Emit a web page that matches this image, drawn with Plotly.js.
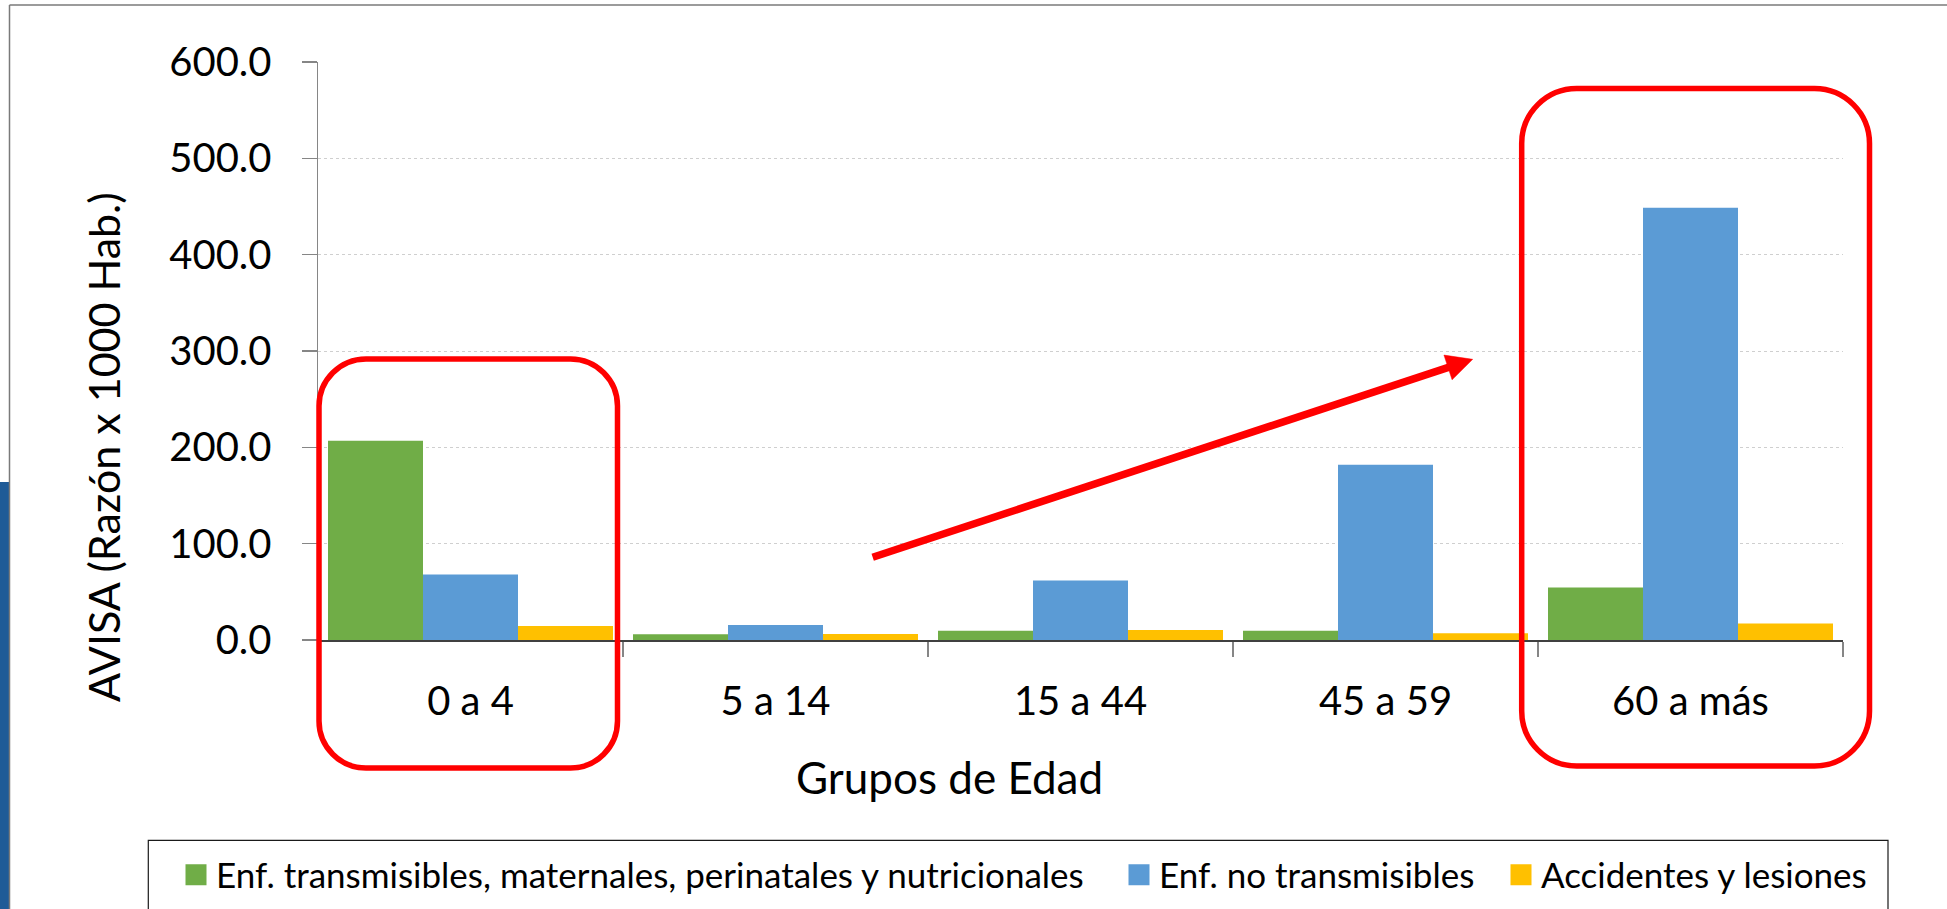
<!DOCTYPE html>
<html>
<head>
<meta charset="utf-8">
<script src="https://cdn.plot.ly/plotly-3.0.1.min.js"></script>
<style>
  html, body { margin: 0; padding: 0; background: #ffffff; }
  #chart { width: 1947px; height: 909px; }
</style>
</head>
<body>
<div id="chart"></div>
<script>
// ---- data ----
const categories = ['0 a 4', '5 a 14', '15 a 44', '45 a 59', '60 a más'];
const transmisibles = [206.8, 5.9, 9.7, 9.7, 54.5];
const noTransmisibles = [67.9, 15.5, 61.7, 182.0, 448.6];
const accidentes = [14.5, 6.2, 10.4, 6.9, 17.0];
const seriesNames = [
  'Enf. transmisibles, maternales, perinatales y nutricionales',
  'Enf. no transmisibles',
  'Accidentes y lesiones'
];
const seriesColors = ['#70AD47', '#5B9BD5', '#FFC000'];
const yAxisTitle = 'AVISA (Razón x 1000 Hab.)';
const xAxisTitle = 'Grupos de Edad';

// ---- geometry (pixels) ----
const W = 1947, H = 909;
const L = 318, R = 1843, T = 62, B = 640;
const PW = R - L, PH = B - T;
const px = x => (x - L) / PW;
const py = y => (B - y) / PH;
const P = (x, y) => px(x).toFixed(5) + ',' + py(y).toFixed(5);

function roundRect(x0, y0, x1, y1, r) {
  const k = 0.5523 * r;
  return 'M' + P(x0 + r, y0) +
    ' L' + P(x1 - r, y0) +
    ' C' + P(x1 - r + k, y0) + ' ' + P(x1, y0 + r - k) + ' ' + P(x1, y0 + r) +
    ' L' + P(x1, y1 - r) +
    ' C' + P(x1, y1 - r + k) + ' ' + P(x1 - r + k, y1) + ' ' + P(x1 - r, y1) +
    ' L' + P(x0 + r, y1) +
    ' C' + P(x0 + r - k, y1) + ' ' + P(x0, y1 - r + k) + ' ' + P(x0, y1 - r) +
    ' L' + P(x0, y0 + r) +
    ' C' + P(x0, y0 + r - k) + ' ' + P(x0 + r - k, y0) + ' ' + P(x0 + r, y0) + ' Z';
}

// arrow geometry
const aStart = [872.7, 557.3], aTip = [1472.7, 359.3];
const dx = aTip[0] - aStart[0], dy = aTip[1] - aStart[1];
const len = Math.hypot(dx, dy);
const ux = dx / len, uy = dy / len, nx = -uy, ny = ux;
const headLen = 26, headHalf = 13;
const base = [aTip[0] - headLen * ux, aTip[1] - headLen * uy];

const FONT = 'Lato, "Open Sans", sans-serif';

const traces = [transmisibles, noTransmisibles, accidentes].map((vals, i) => ({
  type: 'bar',
  x: categories,
  y: vals,
  name: seriesNames[i],
  marker: { color: seriesColors[i], line: { width: 0 } },
  legend: i === 0 ? 'legend' : 'legend' + (i + 1),
  hoverinfo: 'x+y+name'
}));

const legendBase = {
  orientation: 'h',
  xref: 'container', yref: 'container',
  xanchor: 'left', yanchor: 'middle',
  y: 1 - 875 / H,
  bgcolor: 'rgba(0,0,0,0)',
  borderwidth: 0,
  font: { family: FONT, size: 35, color: '#000000' }
};

const layout = {
  width: W, height: H,
  margin: { l: L, r: W - R, t: T, b: H - B, autoexpand: false },
  paper_bgcolor: '#ffffff',
  plot_bgcolor: '#ffffff',
  font: { family: FONT, color: '#000000' },
  barmode: 'group',
  bargap: 0.0656,
  bargroupgap: 0,
  showlegend: true,
  legend: Object.assign({}, legendBase, { x: (216 - 40) / W }),
  legend2: Object.assign({}, legendBase, { x: (1159 - 40) / W }),
  legend3: Object.assign({}, legendBase, { x: (1541 - 40) / W }),
  xaxis: {
    type: 'category',
    categoryorder: 'array',
    categoryarray: categories,
    tickson: 'boundaries',
    ticks: 'outside',
    ticklen: 15,
    tickwidth: 1.5,
    tickcolor: '#868686',
    showline: true,
    linecolor: '#404040',
    linewidth: 1.5,
    showgrid: false,
    zeroline: false,
    ticklabelstandoff: 25,
    tickfont: { family: FONT, size: 40, color: '#000000' }
  },
  yaxis: {
    range: [0, 600],
    dtick: 100,
    tick0: 0,
    tickformat: '.1f',
    ticks: 'outside',
    ticklen: 15,
    tickwidth: 1.5,
    tickcolor: '#868686',
    showline: true,
    linecolor: '#868686',
    linewidth: 1.5,
    showgrid: true,
    gridcolor: '#cfcfcf',
    griddash: 'dot',
    gridwidth: 1,
    zeroline: false,
    ticklabelstandoff: 22,
    tickfont: { family: FONT, size: 40, color: '#000000' }
  },
  annotations: [
    {
      text: yAxisTitle, xref: 'paper', yref: 'paper',
      x: px(103), y: py(447), textangle: -90,
      xanchor: 'center', yanchor: 'middle', showarrow: false,
      font: { family: FONT, size: 43, color: '#000000' }
    },
    {
      text: xAxisTitle, xref: 'paper', yref: 'paper',
      x: px(949), y: py(777),
      xanchor: 'center', yanchor: 'middle', showarrow: false,
      font: { family: FONT, size: 44, color: '#000000' }
    }
  ],
  shapes: [
    // left decorative blue strip
    { type: 'rect', xref: 'paper', yref: 'paper', layer: 'below',
      x0: px(0), x1: px(9), y0: py(482), y1: py(H + 5),
      fillcolor: '#1f5b97', line: { width: 0 } },
    // outer frame (top and left)
    { type: 'line', xref: 'paper', yref: 'paper', layer: 'above',
      x0: px(9.5), x1: px(W + 5), y0: py(5), y1: py(5),
      line: { color: '#7a7a7a', width: 1.5 } },
    { type: 'line', xref: 'paper', yref: 'paper', layer: 'above',
      x0: px(9.5), x1: px(9.5), y0: py(5), y1: py(H + 5),
      line: { color: '#7a7a7a', width: 1.5 } },
    // legend frame
    { type: 'rect', xref: 'paper', yref: 'paper', layer: 'above',
      x0: px(148.3), x1: px(1888), y0: py(840.3), y1: py(H + 20),
      fillcolor: 'rgba(0,0,0,0)', line: { color: '#1a1a1a', width: 1.2 } },
    // red highlight boxes
    { type: 'path', xref: 'paper', yref: 'paper', layer: 'above',
      path: roundRect(319, 359, 617.5, 768, 47),
      line: { color: '#FF0000', width: 5.5 } },
    { type: 'path', xref: 'paper', yref: 'paper', layer: 'above',
      path: roundRect(1521.7, 88.5, 1869.5, 766, 55),
      line: { color: '#FF0000', width: 5.5 } },
    // arrow shaft
    { type: 'line', xref: 'paper', yref: 'paper', layer: 'above',
      x0: px(aStart[0]), y0: py(aStart[1]), x1: px(base[0] + 2 * ux), y1: py(base[1] + 2 * uy),
      line: { color: '#FF0000', width: 7.5 } },
    // arrow head
    { type: 'path', xref: 'paper', yref: 'paper', layer: 'above',
      path: 'M' + P(aTip[0], aTip[1]) +
            ' L' + P(base[0] + headHalf * nx, base[1] + headHalf * ny) +
            ' L' + P(base[0] - headHalf * nx, base[1] - headHalf * ny) + ' Z',
      fillcolor: '#FF0000', line: { color: '#FF0000', width: 0.5 } }
  ]
};

Plotly.newPlot('chart', traces, layout, { displayModeBar: false, staticPlot: true }).then(gd => {
  // enlarge legend swatches to match the reference square size
  gd.querySelectorAll('.legendpoints path').forEach(p => {
    p.setAttribute('d', 'M10.5,10.5H-10.5V-10.5H10.5Z');
  });
});
</script>
</body>
</html>
